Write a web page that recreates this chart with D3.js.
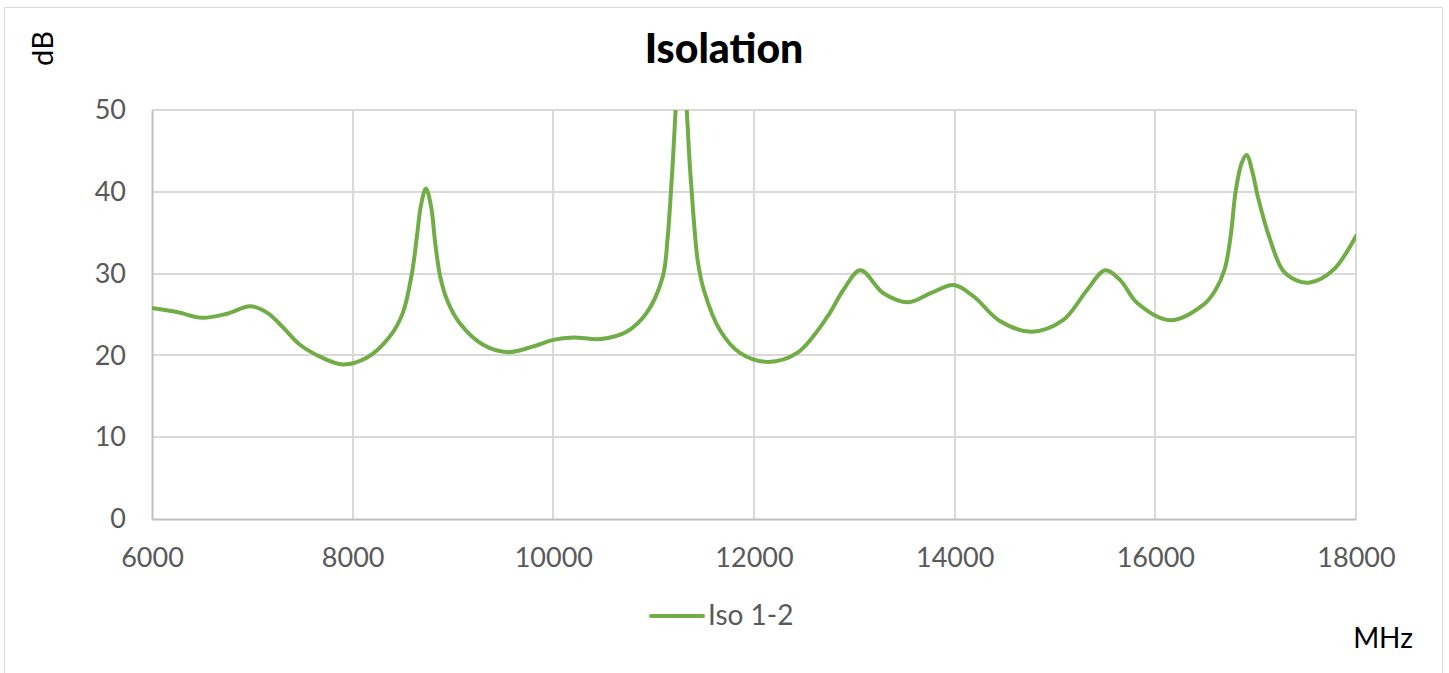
<!DOCTYPE html>
<html>
<head>
<meta charset="utf-8">
<script src="https://cdn.jsdelivr.net/npm/d3@7"></script>
<style>
  html, body { margin: 0; padding: 0; background: #fff; }
  svg { display: block; }
</style>
</head>
<body>
<svg id="chart" width="1449" height="673"></svg>
<script>
// ---- data ----
const freqMHz = [6000, 6250, 6500, 6750, 6980, 7150, 7300, 7475, 7700, 7900,
  8140, 8370, 8500, 8590, 8640, 8680, 8730, 8780, 8825, 8875, 8950, 9070, 9300,
  9550, 9800, 10000, 10200, 10470, 10730, 10930, 11090, 11140, 11180,
  11275, 11370, 11440, 11500, 11660, 11860, 12140, 12430, 12730, 12890,
  13060, 13290, 13540, 13760, 13990, 14190, 14450, 14770, 15080, 15320,
  15500, 15650, 15820, 16150, 16480, 16600, 16690, 16750, 16800, 16860, 16910,
  16970, 17020, 17140, 17270, 17400, 17540, 17770, 18000];
const iso12 = [25.8, 25.3, 24.6, 25.1, 26.0, 25.2, 23.5, 21.3, 19.7, 18.9,
  19.7, 22.3, 25.2, 30.0, 34.5, 38.3, 40.4, 38.3, 33.5, 29.5, 26.5, 23.9, 21.3,
  20.4, 21.1, 21.9, 22.2, 22.0, 22.9, 25.2, 29.6, 34.5, 41.5,
  58.0, 41.5, 31.5, 28.0, 23.1, 20.3, 19.2, 20.3, 24.7, 28.0,
  30.4, 27.6, 26.5, 27.6, 28.6, 27.2, 24.2, 22.9, 24.3, 28.0,
  30.4, 29.2, 26.4, 24.3, 26.2, 28.0, 30.5, 34.5, 40.0, 43.5, 44.5,
  42.3, 39.5, 34.3, 30.4, 29.2, 28.9, 30.4, 34.6];
const xTicks = [6000, 8000, 10000, 12000, 14000, 16000, 18000];
const yTicks = [0, 10, 20, 30, 40, 50];
const seriesName = "Iso 1-2";
const titleText = "Isolation";
const yUnit = "dB";
const xUnit = "MHz";

// ---- layout ----
const svg = d3.select("#chart");
const pLeft = 152, pTop = 110, pRight = 1356, pBottom = 519;
const font = "Lato, 'Noto Sans', sans-serif";

// outer frame
svg.append("rect").attr("x", 4.5).attr("y", 7.5).attr("width", 1438).attr("height", 700)
  .attr("fill", "none").attr("stroke", "#d9d9d9").attr("stroke-width", 1);

const x = d3.scaleLinear().domain([6000, 18000]).range([pLeft, pRight]);
const y = d3.scaleLinear().domain([0, 50]).range([pBottom, pTop]);

// gridlines
svg.append("g").selectAll("line").data(yTicks.filter(d => d > 0)).join("line")
  .attr("x1", pLeft).attr("x2", pRight)
  .attr("y1", d => Math.round(y(d))).attr("y2", d => Math.round(y(d)))
  .attr("stroke", "#d9d9d9").attr("stroke-width", 2);
svg.append("g").selectAll("line").data(xTicks.filter(d => d > 6000)).join("line")
  .attr("y1", pTop).attr("y2", pBottom)
  .attr("x1", d => Math.round(x(d))).attr("x2", d => Math.round(x(d)))
  .attr("stroke", "#d9d9d9").attr("stroke-width", 2);

// axes
const xAxis = d3.axisBottom(x).tickValues(xTicks).tickSize(0).tickPadding(29).tickFormat(d3.format("d"));
const yAxis = d3.axisLeft(y).tickValues(yTicks).tickSize(0).tickPadding(26).tickFormat(d3.format("d"));
const gx = svg.append("g").attr("transform", `translate(0,${pBottom})`).call(xAxis);
const gy = svg.append("g").attr("transform", `translate(${pLeft},0)`).call(yAxis);
[gx, gy].forEach(g => {
  g.select(".domain").attr("stroke", "#bfbfbf").attr("stroke-width", 2);
  g.selectAll("text").attr("fill", "#595959").attr("font-size", 27).attr("font-family", font);
});

// clip
svg.append("clipPath").attr("id", "plotclip").append("rect")
  .attr("x", pLeft).attr("y", pTop).attr("width", pRight - pLeft).attr("height", pBottom - pTop);

const pts = freqMHz.map((f, i) => [f, iso12[i]]);
const line = d3.line().x(d => x(d[0])).y(d => y(d[1])).curve(d3.curveCatmullRom.alpha(0.5));
svg.append("path").attr("d", line(pts)).attr("clip-path", "url(#plotclip)")
  .attr("fill", "none").attr("stroke", "#70ad47").attr("stroke-width", 4)
  .attr("stroke-linejoin", "round").attr("stroke-linecap", "round");

// title
svg.append("text").attr("x", 724).attr("y", 63).attr("text-anchor", "middle")
  .attr("font-family", font).attr("font-weight", 900).attr("font-size", 41).attr("fill", "#000")
  .text(titleText);

// units
svg.append("text").attr("transform", "translate(53,48.5) rotate(-90)").attr("text-anchor", "middle")
  .attr("font-family", font).attr("font-size", 29).attr("fill", "#000").text(yUnit);
svg.append("text").attr("x", 1383).attr("y", 648).attr("text-anchor", "middle")
  .attr("font-family", font).attr("font-size", 28).attr("fill", "#000").text(xUnit);

// legend
svg.append("line").attr("x1", 651).attr("x2", 703).attr("y1", 616).attr("y2", 616)
  .attr("stroke", "#70ad47").attr("stroke-width", 4).attr("stroke-linecap", "round");
svg.append("text").attr("x", 708).attr("y", 625).attr("font-family", font)
  .attr("font-size", 28).attr("fill", "#595959").text(seriesName);
</script>
</body>
</html>
